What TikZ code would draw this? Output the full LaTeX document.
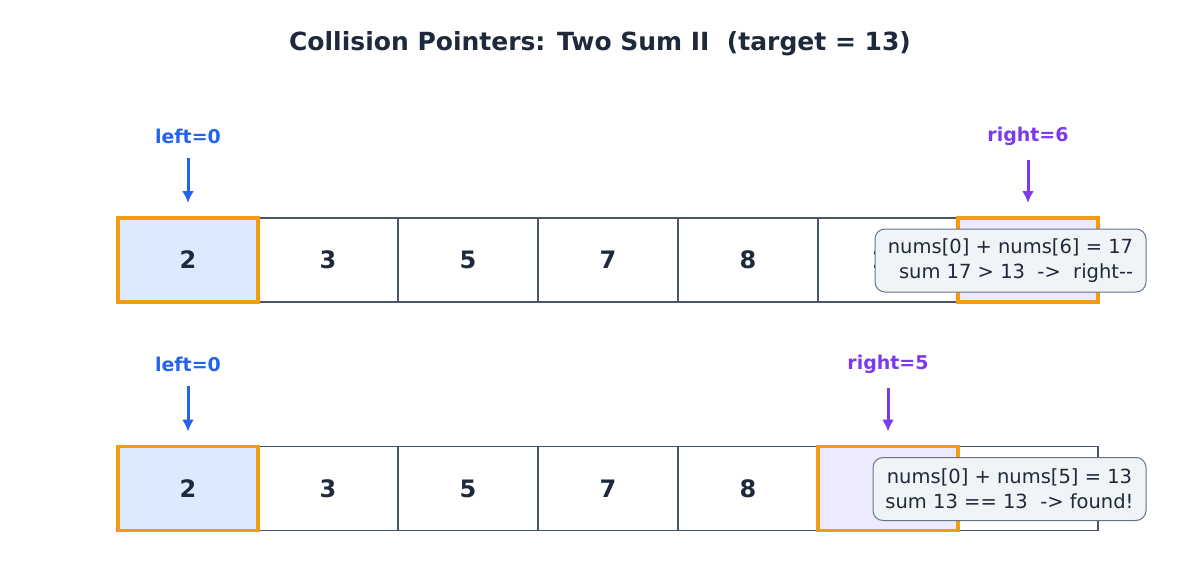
\documentclass[tikz,border=0pt]{standalone}
\usepackage{fontspec}
\setmainfont{DejaVu Sans}
\usetikzlibrary{positioning,arrows.meta}
\definecolor{ptrblue}{HTML}{2563EB}
\definecolor{ptrpurple}{HTML}{7C3AED}
\definecolor{hlorange}{HTML}{F39C12}
\definecolor{cellline}{HTML}{475569}
\definecolor{inktext}{HTML}{1E293B}
\definecolor{leftfill}{HTML}{DBEAFE}
\definecolor{rightfill}{HTML}{EDE9FE}
\definecolor{notefill}{HTML}{F1F4F7}
\definecolor{noteline}{HTML}{64748B}
\tikzset{
  cell/.style={draw=cellline, line width=1.5pt, minimum width=140pt, minimum height=84pt, inner sep=0pt, outer sep=0pt,
    font=\fontsize{24}{28}\selectfont\bfseries, text=inktext},
  hlcell/.style={cell, draw=hlorange, line width=3.5pt},
  ptrlabel/.style={font=\fontsize{19}{23}\selectfont\bfseries},
  ptrarrow/.style={-{Latex[length=12pt,width=12pt]}, line width=3pt, shorten <=11pt, shorten >=15pt},
  note/.style={draw=noteline, fill=notefill, rounded corners=10pt, line width=1pt, inner xsep=9pt, inner ysep=6pt,
    minimum height=63pt, font=\fontsize{19.5}{25}\selectfont, text=inktext}
}
\begin{document}
\begin{tikzpicture}[x=1pt,y=-1pt]
  \useasboundingbox[fill=white] (0,0) rectangle (1200,578);
  \node[font=\fontsize{25}{30}\selectfont\bfseries, text=inktext] (title) at (600,44) {Collision Pointers: Two Sum II~~(target = 13)};

  % step 1
  \node[cell] (a0) at (188,260) {2};
  \foreach \v [count=\i, remember=\i as \j (initially 0)] in {3,5,7,8,11,15}
    \node[cell, right=0pt of a\j] (a\i) {\v};
  \node[hlcell, fill=leftfill] (a0hl) at (a0) {2};
  \node[hlcell, fill=rightfill] (a6hl) at (a6) {15};
  \node[ptrlabel, text=ptrblue] (left1) at ([yshift=82pt]a0.north) {left=0};
  \node[ptrlabel, text=ptrpurple] (right1) at ([yshift=82pt]a6.north) {right=6};
  \draw[ptrarrow, ptrblue] (left1) -- (a0hl);
  \draw[ptrarrow, ptrpurple] (right1) -- (a6hl);
  \node[note, align=right, minimum width=271pt] (note1) at (1010.5,260.5) {nums[0] + nums[6] = 17\\sum 17 > 13~~->~~right-{}-};

  % step 2
  \node[cell] (b0) at (188,488.5) {2};
  \foreach \v [count=\i, remember=\i as \j (initially 0)] in {3,5,7,8,11,15}
    \node[cell, right=0pt of b\j] (b\i) {\v};
  \node[hlcell, fill=leftfill] (b0hl) at (b0) {2};
  \node[hlcell, fill=rightfill] (b5hl) at (b5) {11};
  \node[ptrlabel, text=ptrblue] (left2) at ([yshift=82pt]b0.north) {left=0};
  \node[ptrlabel, text=ptrpurple] (right2) at ([yshift=82pt]b5.north) {right=5};
  \draw[ptrarrow, ptrblue] (left2) -- (b0hl);
  \draw[ptrarrow, ptrpurple] (right2) -- (b5hl);
  \node[note, align=center, minimum width=273pt] (note2) at (1009.5,489) {nums[0] + nums[5] = 13\\sum 13 == 13~~-> found!};
\end{tikzpicture}
\end{document}
